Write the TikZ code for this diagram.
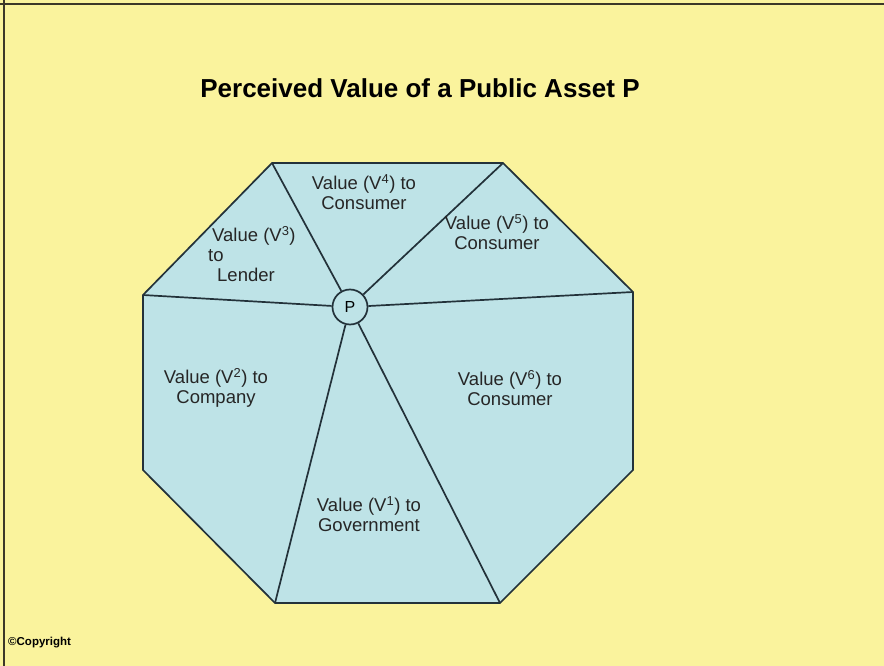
\documentclass[tikz,border=0pt]{standalone}
\usepackage{fontspec}
\setmainfont{Liberation Sans}
\definecolor{bgyellow}{RGB}{250,243,157}
\definecolor{octblue}{RGB}{190,227,231}
\definecolor{linecol}{RGB}{35,50,58}
\definecolor{framecol}{RGB}{60,55,40}
\begin{document}
\begin{tikzpicture}[x=1pt,y=-1pt,
  edge/.style={draw=linecol,line width=1.7pt},
  lbl/.style={font=\fontsize{18.5}{20}\selectfont,text=black!85,inner sep=0pt,align=center}]
\useasboundingbox (0,0) rectangle (884,666);
\fill[bgyellow] (0,0) rectangle (884,666);
\draw[framecol,line width=2.5pt] (0,4) -- (884,4);
\draw[framecol,line width=2.5pt] (4,0) -- (4,666);
% octagon vertices
\coordinate (tl) at (272,163);
\coordinate (tr) at (503,163);
\coordinate (ru) at (633,292);
\coordinate (rl) at (633,470);
\coordinate (br) at (500,603);
\coordinate (bl) at (275,603);
\coordinate (ll) at (143,470);
\coordinate (lu) at (143,295);
\filldraw[fill=octblue,edge] (tl) -- (tr) -- (ru) -- (rl) -- (br) -- (bl) -- (ll) -- (lu) -- cycle;
\node[circle,draw=linecol,line width=1.7pt,fill=octblue,minimum size=35pt,inner sep=0pt,font=\fontsize{16}{18}\selectfont] (P) at (350,307) {P};
\draw[edge] (P) -- (tl);
\draw[edge] (P) -- (tr);
\draw[edge] (P) -- (lu);
\draw[edge] (P) -- (ru);
\draw[edge] (P) -- (bl);
\draw[edge] (P) -- (br);
% title
\node[font=\fontsize{26}{30}\selectfont\bfseries,inner sep=0pt] (title) at (420,88) {Perceived Value of a Public Asset P};
% labels
\node[lbl] (v4) at (364,192) {Value (V\textsuperscript{4}) to\\Consumer};
\node[lbl] (v5) at (497,232) {Value (V\textsuperscript{5}) to\\Consumer};
\node[lbl,align=left,anchor=west] (v3) at (208,254) {\hspace{4pt}Value (V\textsuperscript{3})\\to\\\hspace{9pt}Lender};
\node[lbl] (v2) at (216,388) {Value (V\textsuperscript{2}) to\\Company};
\node[lbl] (v6) at (510,388) {Value (V\textsuperscript{6}) to\\Consumer};
\node[lbl] (v1) at (369,514) {Value (V\textsuperscript{1}) to\\Government};
\node[font=\fontsize{11.5}{13}\selectfont\bfseries,anchor=west,inner sep=0pt] (copy) at (8,643) {\textcopyright Copyright};
\end{tikzpicture}
\end{document}
